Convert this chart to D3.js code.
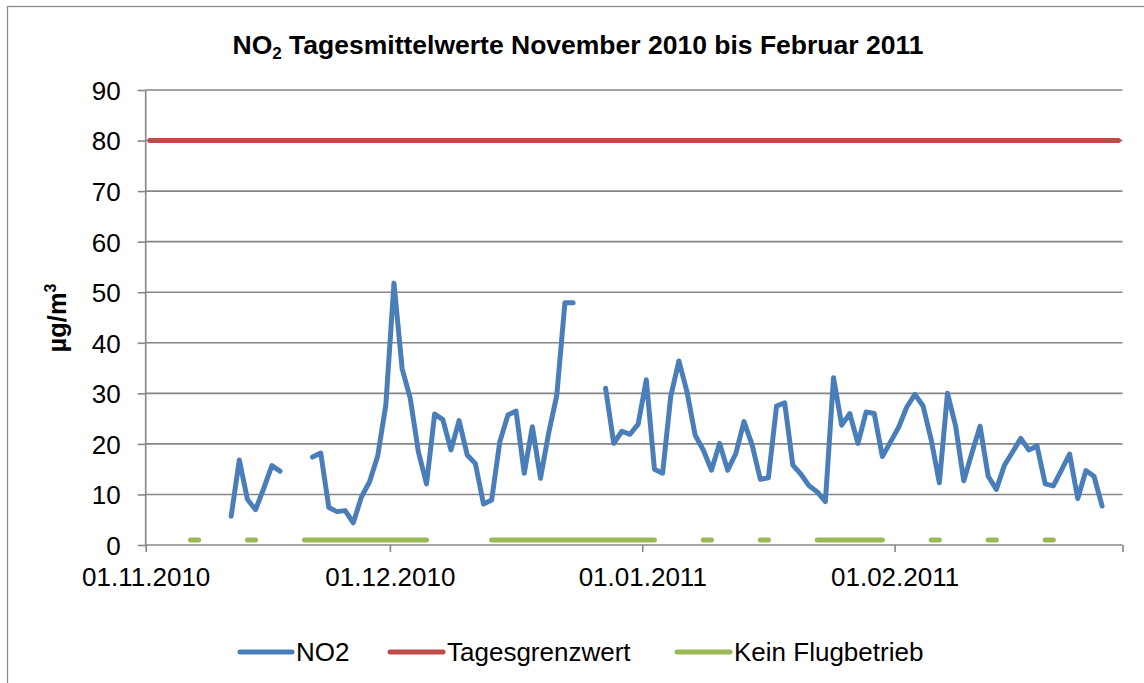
<!DOCTYPE html>
<html>
<head>
<meta charset="utf-8">
<script src="https://cdn.jsdelivr.net/npm/d3@7"></script>
<style>
  html, body { margin: 0; padding: 0; background: #fff; }
  svg { display: block; font-family: Arial, "Liberation Sans", sans-serif; }
</style>
</head>
<body>
<svg id="chart" width="1144" height="683"></svg>
<script>
// ---------- data ----------
const titleMain = "NO";
const titleSub = "2";
const titleRest = " Tagesmittelwerte November 2010 bis Februar 2011";
const yLabel = "µg/m";
const yLabelSup = "3";

const xDomain = ["2010-11-01", "2011-03-01"];
const xTickDates = ["2010-11-01", "2010-12-01", "2011-01-01", "2011-02-01", "2011-03-01"];
const xTickLabels = ["01.11.2010", "01.12.2010", "01.01.2011", "01.02.2011"];
const yTicks = [0, 10, 20, 30, 40, 50, 60, 70, 80, 90];

const seriesNames = ["NO2", "Tagesgrenzwert", "Kein Flugbetrieb"];
const seriesColors = ["#4A7EBB", "#BE4B48", "#98B954"];

// NO2 daily means, one value per day starting at no2Start (null = no value)
const no2Start = "2010-11-11";
const no2Values = [
  5.7, 16.8, 9.0, 7.0, 11.2, 15.7, 14.6,            // 11.11 - 17.11
  null, null, null,                                // 18.11 - 20.11
  17.4, 18.2, 7.4, 6.6, 6.8, 4.4, 9.5, 12.5, 17.6, 27.7, // 21.11 - 30.11
  51.8, 34.9, 29.0, 18.4, 12.1, 25.9, 24.8, 18.8, 24.6, 17.8, // 01.12 - 10.12
  16.1, 8.1, 8.9, 20.4, 25.7, 26.5, 14.2, 23.4, 13.2, 22.1,   // 11.12 - 20.12
  29.6, 47.9, 47.9,                                // 21.12 - 23.12
  null, null, null,                                // 24.12 - 26.12
  31.0, 20.1, 22.5, 21.9, 23.9,                    // 27.12 - 31.12
  32.7, 15.0, 14.2, 29.4, 36.4, 30.3, 21.7, 18.8, 14.8, 20.1, // 01.01 - 10.01
  14.8, 18.1, 24.4, 19.8, 13.0, 13.3, 27.5, 28.1, 15.8, 14.0, // 11.01 - 20.01
  11.7, 10.5, 8.6, 33.1, 23.7, 26.0, 20.1, 26.3, 26.0, 17.5,  // 21.01 - 30.01
  20.4,                                            // 31.01
  23.3, 27.3, 29.8, 27.5, 20.8, 12.3, 30.0, 23.5, 12.7, 18.2, // 01.02 - 10.02
  23.5, 13.6, 11.0, 15.8, 18.4, 21.1, 18.8, 19.6, 12.1, 11.7, // 11.02 - 20.02
  14.8, 18.0, 9.2, 14.7, 13.6, 7.7                 // 21.02 - 26.02
];

// Daily limit value
const limitValue = 80;
const limitPeriod = ["2010-11-01", "2011-02-28"];

// Days without flight operation (drawn at a constant marker value)
const noFlightValue = 1;
const noFlightPeriods = [
  ["2010-11-06", "2010-11-07"],
  ["2010-11-13", "2010-11-14"],
  ["2010-11-20", "2010-12-05"],
  ["2010-12-13", "2011-01-02"],
  ["2011-01-08", "2011-01-09"],
  ["2011-01-15", "2011-01-16"],
  ["2011-01-22", "2011-01-30"],
  ["2011-02-05", "2011-02-06"],
  ["2011-02-12", "2011-02-13"],
  ["2011-02-19", "2011-02-20"]
];

// ---------- drawing ----------
const parse = d3.utcParse("%Y-%m-%d");
const svg = d3.select("#chart");
const gridColor = "#868686";
const lineW = 5;
const fontSize = 26;

// outer frame (only left and top edges are visible in the picture)
svg.append("rect")
  .attr("x", 7.5).attr("y", 6.5)
  .attr("width", 1200).attr("height", 800)
  .attr("fill", "none").attr("stroke", "#8c8c8c").attr("stroke-width", 1.3);

const x = d3.scaleUtc().domain(xDomain.map(parse)).range([145.7, 1122.5]);
const y = d3.scaleLinear().domain([0, 90]).range([545, 90]);
const mid = d => d3.utcHour.offset(d, 12);

// gridlines
svg.append("g").selectAll("line").data(yTicks.filter(v => v > 0)).join("line")
  .attr("x1", x.range()[0]).attr("x2", x.range()[1])
  .attr("y1", d => y(d)).attr("y2", d => y(d))
  .attr("stroke", gridColor).attr("stroke-width", 1.6);

// y axis
const yAxis = d3.axisLeft(y).tickValues(yTicks).tickSize(8).tickFormat(d3.format("d"));
const gy = svg.append("g").attr("transform", `translate(${x.range()[0]},0)`).call(yAxis);
gy.select(".domain").attr("stroke", gridColor).attr("stroke-width", 1.6).attr("d", `M0,${y(0)}V${y(90)}`);
gy.selectAll(".tick line").attr("stroke", gridColor).attr("stroke-width", 1.6);
gy.selectAll(".tick text").attr("font-size", fontSize).attr("fill", "#000")
  .attr("font-family", "Arial, 'Liberation Sans', sans-serif").attr("x", -25).attr("dy", "0.36em");

// x axis
const xAxis = d3.axisBottom(x).tickValues(xTickDates.map(parse)).tickSize(7)
  .tickFormat((d, i) => xTickLabels[i] || "");
const gx = svg.append("g").attr("transform", `translate(0,${y(0)})`).call(xAxis);
gx.select(".domain").attr("stroke", gridColor).attr("stroke-width", 1.6).attr("d", `M${x.range()[0]},0H${x.range()[1]}`);
gx.selectAll(".tick line").attr("stroke", gridColor).attr("stroke-width", 1.6);
gx.selectAll(".tick text").attr("font-size", fontSize).attr("fill", "#000")
  .attr("font-family", "Arial, 'Liberation Sans', sans-serif").attr("y", 22.5).attr("dy", "0.71em");

// series: limit line
const limitData = limitPeriod.map(s => ({ date: mid(parse(s)), value: limitValue }));
const line = d3.line().defined(d => d.value != null).x(d => x(d.date)).y(d => y(d.value));
svg.append("path").datum(limitData).attr("d", line)
  .attr("fill", "none").attr("stroke", seriesColors[1]).attr("stroke-width", lineW).attr("stroke-linecap", "round");

// series: no flight periods
const noFlightData = [];
noFlightPeriods.forEach((p, k) => {
  const days = d3.utcDay.range(parse(p[0]), d3.utcDay.offset(parse(p[1]), 1));
  if (k > 0) noFlightData.push({ date: null, value: null });
  days.forEach(d => noFlightData.push({ date: mid(d), value: noFlightValue }));
});
svg.append("path").datum(noFlightData).attr("d", line)
  .attr("fill", "none").attr("stroke", seriesColors[2]).attr("stroke-width", lineW)
  .attr("stroke-linecap", "round").attr("stroke-linejoin", "round");

// series: NO2
const no2Data = no2Values.map((v, i) => ({ date: mid(d3.utcDay.offset(parse(no2Start), i)), value: v }));
svg.append("path").datum(no2Data).attr("d", line)
  .attr("fill", "none").attr("stroke", seriesColors[0]).attr("stroke-width", lineW)
  .attr("stroke-linecap", "round").attr("stroke-linejoin", "round");

// title
const title = svg.append("text").attr("x", 578).attr("y", 54).attr("text-anchor", "middle")
  .attr("font-size", 26.5).attr("font-weight", "bold").attr("fill", "#000");
title.append("tspan").text(titleMain);
title.append("tspan").attr("font-size", 17).attr("dy", 5).text(titleSub);
title.append("tspan").attr("dy", -5).text(titleRest);

// y label
const yl = svg.append("text").attr("transform", "translate(66,318) rotate(-90)")
  .attr("text-anchor", "middle").attr("font-size", 25.5).attr("font-weight", "bold").attr("fill", "#000");
yl.append("tspan").text(yLabel);
yl.append("tspan").attr("font-size", 16).attr("dy", -10).text(yLabelSup);

// legend
const legendItems = [
  { name: seriesNames[0], color: seriesColors[0], x1: 240, x2: 292, tx: 296 },
  { name: seriesNames[1], color: seriesColors[1], x1: 390, x2: 443, tx: 447 },
  { name: seriesNames[2], color: seriesColors[2], x1: 677, x2: 730, tx: 734 }
];
const lg = svg.append("g");
legendItems.forEach(it => {
  lg.append("line").attr("x1", it.x1).attr("x2", it.x2).attr("y1", 652).attr("y2", 652)
    .attr("stroke", it.color).attr("stroke-width", lineW).attr("stroke-linecap", "round");
  lg.append("text").attr("x", it.tx).attr("y", 661).attr("font-size", fontSize).attr("fill", "#000").text(it.name);
});
</script>
</body>
</html>
